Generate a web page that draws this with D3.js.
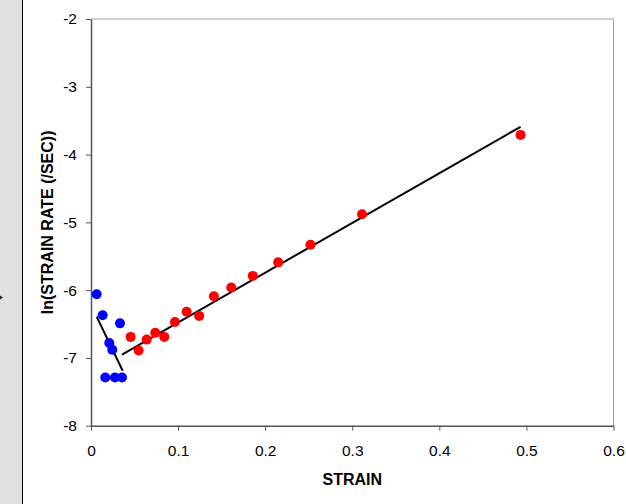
<!DOCTYPE html>
<html><head><meta charset="utf-8">
<script src="https://cdn.jsdelivr.net/npm/d3@7"></script>
<style>body{margin:0;background:#fff;}svg{display:block;}text{font-family:"Liberation Sans",Arial,sans-serif;}</style>
</head><body>
<svg id="c" width="626" height="504"></svg>
<script>
const blueX = [0.0065,0.0134,0.021,0.0244,0.0333,0.0164,0.0275,0.0356];
const blueY = [-6.06,-6.37,-6.78,-6.88,-6.49,-7.29,-7.29,-7.29];
const redX = [0.0455,0.0547,0.0639,0.0738,0.0841,0.0964,0.1098,0.1242,0.1411,0.161,0.1858,0.2149,0.252,0.3112,0.4933];
const redY = [-6.69,-6.89,-6.73,-6.63,-6.69,-6.47,-6.32,-6.38,-6.09,-5.96,-5.79,-5.59,-5.33,-4.88,-3.71];
const blueFit = [[0.0065,-6.39],[0.0364,-7.19]];
const redFit = [[0.0356,-6.95],[0.4933,-3.59]];
const xTicks = [0,0.1,0.2,0.3,0.4,0.5,0.6];
const yTicks = [-8,-7,-6,-5,-4,-3,-2];

const svg = d3.select("#c");
const x = d3.scaleLinear().domain([0,0.6]).range([91,613.5]);
const y = d3.scaleLinear().domain([-8,-2]).range([425.7,19]);

// left gray panel
svg.append("rect").attr("x",0).attr("y",0).attr("width",22).attr("height",504).attr("fill","#e0e0e0");
svg.append("line").attr("x1",22.5).attr("x2",22.5).attr("y1",0).attr("y2",504).attr("stroke","#000").attr("stroke-width",1);
svg.append("path").attr("d","M0,295.5 L3,297.5 L0,299.5 Z").attr("fill","#222");

// top & right border
svg.append("path").attr("d",`M${x(0)},${y(-2)} H${x(0.6)} V${y(-8)}`).attr("fill","none").attr("stroke","#a0a0a0").attr("stroke-width",1);

const fmt = d => String(d);
const gx = svg.append("g").attr("transform",`translate(0,${y(-8)})`)
  .call(d3.axisBottom(x).tickValues(xTicks).tickFormat(fmt).tickSize(5).tickSizeOuter(0).tickPadding(14));
const gy = svg.append("g").attr("transform",`translate(${x(0)},0)`)
  .call(d3.axisLeft(y).tickValues(yTicks).tickFormat(fmt).tickSize(5).tickSizeOuter(0).tickPadding(9));
[gx,gy].forEach(g=>{
  g.select(".domain").attr("stroke","#555").attr("stroke-width",1.5);
  g.selectAll(".tick line").attr("stroke","#555");
  g.selectAll(".tick text").attr("font-size",15.5).attr("fill","#000").attr("font-family","'Liberation Sans',Arial,sans-serif");
});
gx.selectAll(".tick text").attr("dy","0.71em");

// fit lines
const line = d3.line().x(d=>x(d[0])).y(d=>y(d[1]));
[blueFit, redFit].forEach(f=>{
  svg.append("path").attr("d",line(f)).attr("fill","none").attr("stroke","#000").attr("stroke-width",2);
});

// points
svg.append("g").selectAll("circle").data(blueX.map((d,i)=>[d,blueY[i]])).join("circle")
  .attr("cx",d=>x(d[0])).attr("cy",d=>y(d[1])).attr("r",5).attr("fill","#0000ff");
svg.append("g").selectAll("circle").data(redX.map((d,i)=>[d,redY[i]])).join("circle")
  .attr("cx",d=>x(d[0])).attr("cy",d=>y(d[1])).attr("r",5).attr("fill","#ff0000");

// axis titles
svg.append("text").attr("x",(x(0)+x(0.6))/2).attr("y",485).attr("text-anchor","middle")
  .attr("font-size",16).attr("font-weight","bold").text("STRAIN");
svg.append("text").attr("transform",`translate(52.5,${(y(-2)+y(-8))/2}) rotate(-90)`).attr("text-anchor","middle")
  .attr("font-size",16).attr("font-weight","bold").text("ln(STRAIN RATE (/SEC))");
</script>
</body></html>
